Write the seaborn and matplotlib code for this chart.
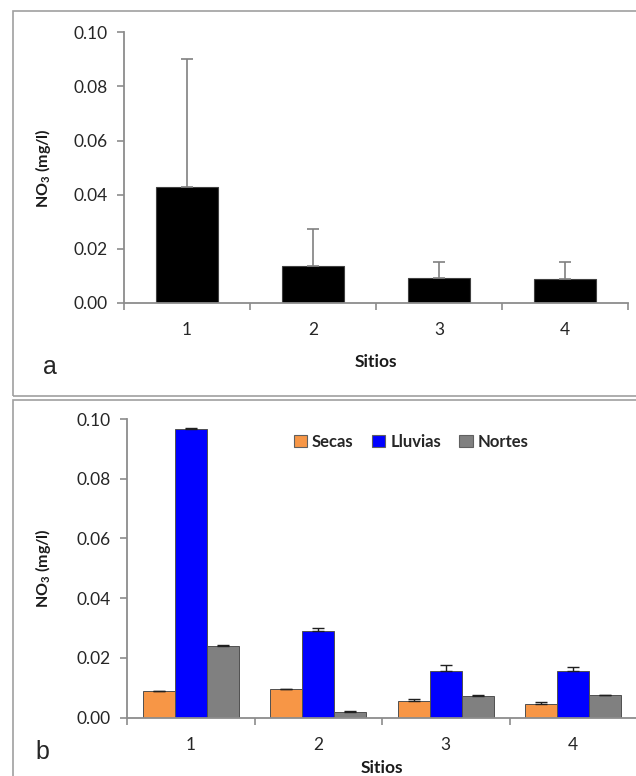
import pandas as pd
import numpy as np
import seaborn as sns
import matplotlib.pyplot as plt
from matplotlib.patches import Rectangle, Patch

sns.set_style("white")
plt.rcParams['font.family'] = ['Lato', 'DejaVu Sans']
plt.rcParams['mathtext.fontset'] = 'custom'
plt.rcParams['mathtext.rm'] = 'Lato'
plt.rcParams['mathtext.bf'] = 'Lato:bold'

# panel a: mean NO3 per site with (upper) standard deviation
sites = ['1', '2', '3', '4']
no3_mean = [0.043, 0.0135, 0.0094, 0.0089]
no3_sd = [0.047, 0.014, 0.0057, 0.0061]

# panel b: per season
seasons = ['Secas', 'Lluvias', 'Nortes']
secas = [0.0089, 0.0096, 0.0057, 0.0046]
secas_sd = [0.0002, 0.0001, 0.0007, 0.0005]
lluvias = [0.0966, 0.0291, 0.0156, 0.0156]
lluvias_sd = [0.0003, 0.0010, 0.0020, 0.0014]
nortes = [0.0240, 0.0020, 0.0073, 0.0075]
nortes_sd = [0.0002, 0.0001, 0.0003, 0.0002]
season_colors = ['#F79646', '#0000FF', '#808080']

W, H = 636, 776
fig = plt.figure(figsize=(W / 100, H / 100), dpi=100)

# outer frames around each panel
fig.add_artist(Rectangle((13 / W, 1 - 395.5 / H), 640 / W, 385 / H,
                         transform=fig.transFigure, fill=False,
                         edgecolor='#a0a0a0', lw=1.2))
fig.add_artist(Rectangle((13 / W, 1 - 790 / H), 640 / W, 390.5 / H,
                         transform=fig.transFigure, fill=False,
                         edgecolor='#a0a0a0', lw=1.2))

ax1 = fig.add_axes([124 / W, 1 - 303 / H, 504 / W, 270.7 / H])
ax2 = fig.add_axes([127 / W, 1 - 717.7 / H, 510 / W, 298.7 / H])

spine_col = '#8c8c8c'
ylab = r'NO$_{\mathbf{3}}$ (mg/l)'


def style_axis(ax, labelpad_x, xlab_y, ylab_x):
    ax.set_xlim(-0.5, 3.5)
    ax.set_ylim(0, 0.10)
    ax.set_yticks([0, 0.02, 0.04, 0.06, 0.08, 0.10])
    ax.set_yticklabels(['0.00', '0.02', '0.04', '0.06', '0.08', '0.10'])
    for s in ['top', 'right']:
        ax.spines[s].set_visible(False)
    for s in ['left', 'bottom']:
        ax.spines[s].set_color(spine_col)
        ax.spines[s].set_linewidth(1.3)
    ax.set_xticks([-0.5, 0.5, 1.5, 2.5, 3.5], minor=True)
    ax.tick_params(axis='x', which='major', length=0, pad=labelpad_x,
                   labelsize=12.5, labelcolor='#262626')
    ax.tick_params(axis='x', which='minor', length=5, width=1.2,
                   color=spine_col, direction='out', bottom=True)
    ax.tick_params(axis='y', length=5, width=1.2, color=spine_col,
                   direction='out', left=True, pad=7,
                   labelsize=12.5, labelcolor='#262626')
    ax.set_xlabel('Sitios', fontsize=12.5, fontweight='bold', color='#1a1a1a')
    ax.set_ylabel(ylab, fontsize=11.5, fontweight='bold', color='#1a1a1a')
    ax.xaxis.set_label_coords(0.5, xlab_y)
    ax.yaxis.set_label_coords(ylab_x, 0.5)


# --- panel a ---
sns.barplot(x=sites, y=no3_mean, color='black', width=0.49,
            errorbar=None, edgecolor='#404040', linewidth=0.8, ax=ax1)
for p, m, sd in zip(ax1.patches, no3_mean, no3_sd):
    xc = p.get_x() + p.get_width() / 2
    ax1.errorbar(xc, m, yerr=[[0], [sd]], fmt='none', ecolor='#808080',
                 elinewidth=1.2, capsize=4.5, capthick=1.2, zorder=1)
style_axis(ax1, 14, -0.19, -0.14)

# --- panel b ---
df = pd.DataFrame({
    'sitio': sites * 3,
    'temporada': np.repeat(seasons, len(sites)),
    'no3': secas + lluvias + nortes,
})
sns.barplot(data=df, x='sitio', y='no3', hue='temporada', hue_order=seasons,
            palette=season_colors, saturation=1, width=0.75, errorbar=None,
            edgecolor='#505050', linewidth=0.7, legend=False, ax=ax2)
sds = [secas_sd, lluvias_sd, nortes_sd]
vals = [secas, lluvias, nortes]
for cont, v, e in zip(ax2.containers, vals, sds):
    for p, m, sd in zip(cont.patches, v, e):
        xc = p.get_x() + p.get_width() / 2
        ax2.errorbar(xc, m, yerr=[[0], [sd]], fmt='none', ecolor='#202020',
                     elinewidth=1.0, capsize=4, capthick=1.0, zorder=3)
style_axis(ax2, 14, -0.14, -0.145)

handles = [Patch(facecolor=c, edgecolor='#606060', lw=0.8) for c in season_colors]
ax2.legend(handles, seasons, loc='center', bbox_to_anchor=(0.557, 0.924),
           ncol=3, frameon=False, handlelength=0.8, handleheight=0.8,
           handletextpad=0.3, columnspacing=1.1,
           prop={'weight': 'bold', 'size': 12})

fig.text(50 / W, 1 - 374 / H, 'a', fontsize=18, family='Liberation Sans',
         ha='center', va='baseline')
fig.text(42 / W, 1 - 759 / H, 'b', fontsize=18, family='Liberation Sans',
         ha='center', va='baseline')

fig.savefig('out.png', dpi=100)
